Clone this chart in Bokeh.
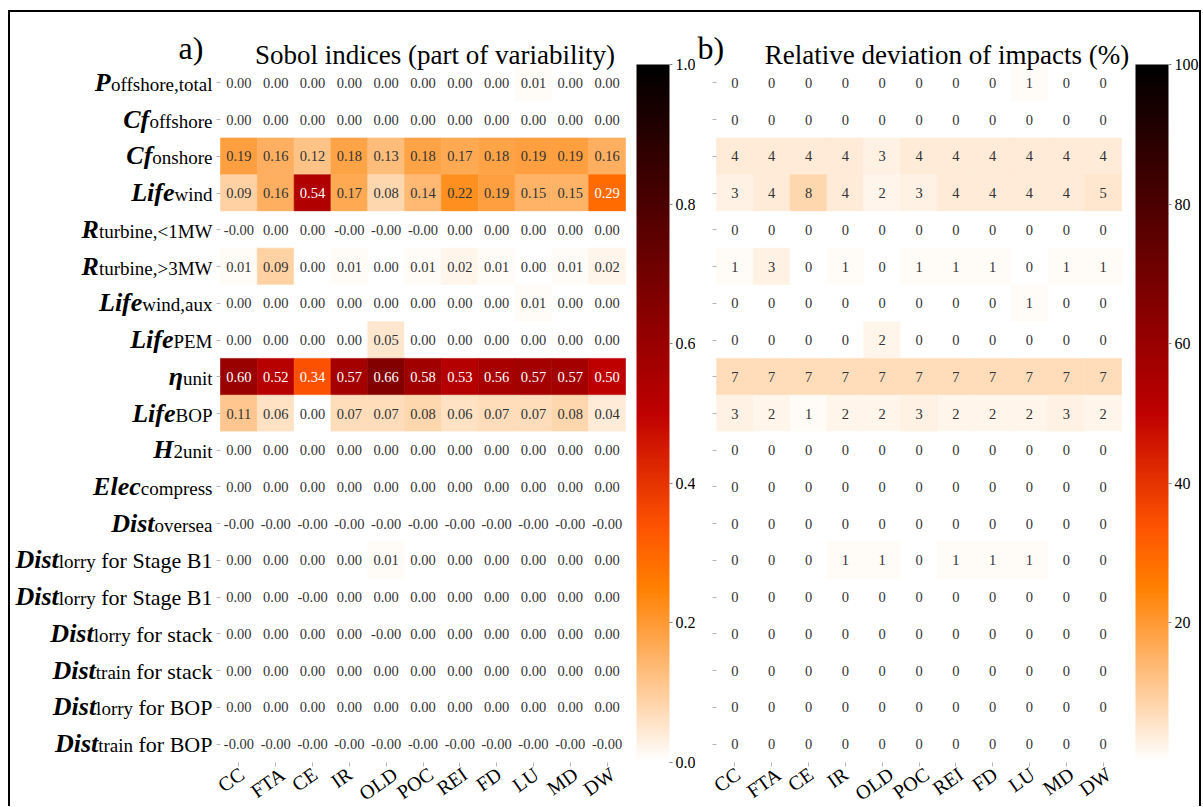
import math
from bokeh.plotting import figure
from bokeh.models import (ColumnDataSource, LinearColorMapper, ColorBar, FixedTicker, Range1d,
                          LabelSet, Label, CustomJSTickFormatter, PrintfTickFormatter)
from bokeh.layouts import row
from bokeh.transform import transform
from bokeh.core.properties import value, field
from bokeh.embed import file_html
from bokeh.resources import INLINE

# ---------------- data ----------------
scenarios = ["CC", "FTA", "CE", "IR", "OLD", "POC", "REI", "FD", "LU", "MD", "DW"]

param_main = ["P", "Cf", "Cf", "Life", "R", "R", "Life", "Life", "η", "Life",
              "H", "Elec", "Dist", "Dist", "Dist", "Dist", "Dist", "Dist", "Dist"]
param_sub = ["offshore,total", "offshore", "onshore", "wind", "turbine,<1MW", "turbine,>3MW",
             "wind,aux", "PEM", "unit", "BOP", "2unit", "compress", "oversea",
             "lorry", "lorry", "lorry", "train", "lorry", "train"]
param_rest = ["", "", "", "", "", "", "", "", "", "", "", "", "",
              "for Stage B1", "for Stage B1", "for stack", "for stack", "for BOP", "for BOP"]

sobol = [
    [0.00, 0.00, 0.00, 0.00, 0.00, 0.00, 0.00, 0.00, 0.01, 0.00, 0.00],
    [0.00, 0.00, 0.00, 0.00, 0.00, 0.00, 0.00, 0.00, 0.00, 0.00, 0.00],
    [0.19, 0.16, 0.12, 0.18, 0.13, 0.18, 0.17, 0.18, 0.19, 0.19, 0.16],
    [0.09, 0.16, 0.54, 0.17, 0.08, 0.14, 0.22, 0.19, 0.15, 0.15, 0.29],
    [-0.0, 0.00, 0.00, -0.0, -0.0, -0.0, 0.00, 0.00, 0.00, 0.00, 0.00],
    [0.01, 0.09, 0.00, 0.01, 0.00, 0.01, 0.02, 0.01, 0.00, 0.01, 0.02],
    [0.00, 0.00, 0.00, 0.00, 0.00, 0.00, 0.00, 0.00, 0.01, 0.00, 0.00],
    [0.00, 0.00, 0.00, 0.00, 0.05, 0.00, 0.00, 0.00, 0.00, 0.00, 0.00],
    [0.60, 0.52, 0.34, 0.57, 0.66, 0.58, 0.53, 0.56, 0.57, 0.57, 0.50],
    [0.11, 0.06, 0.00, 0.07, 0.07, 0.08, 0.06, 0.07, 0.07, 0.08, 0.04],
    [0.00, 0.00, 0.00, 0.00, 0.00, 0.00, 0.00, 0.00, 0.00, 0.00, 0.00],
    [0.00, 0.00, 0.00, 0.00, 0.00, 0.00, 0.00, 0.00, 0.00, 0.00, 0.00],
    [-0.0, -0.0, -0.0, -0.0, -0.0, -0.0, -0.0, -0.0, -0.0, -0.0, -0.0],
    [0.00, 0.00, 0.00, 0.00, 0.01, 0.00, 0.00, 0.00, 0.00, 0.00, 0.00],
    [0.00, 0.00, -0.0, 0.00, 0.00, 0.00, 0.00, 0.00, 0.00, 0.00, 0.00],
    [0.00, 0.00, 0.00, 0.00, -0.0, 0.00, 0.00, 0.00, 0.00, 0.00, 0.00],
    [0.00, 0.00, 0.00, 0.00, 0.00, 0.00, 0.00, 0.00, 0.00, 0.00, 0.00],
    [0.00, 0.00, 0.00, 0.00, 0.00, 0.00, 0.00, 0.00, 0.00, 0.00, 0.00],
    [-0.0, -0.0, -0.0, -0.0, -0.0, -0.0, -0.0, -0.0, -0.0, -0.0, -0.0],
]

deviation = [
    [0, 0, 0, 0, 0, 0, 0, 0, 1, 0, 0],
    [0, 0, 0, 0, 0, 0, 0, 0, 0, 0, 0],
    [4, 4, 4, 4, 3, 4, 4, 4, 4, 4, 4],
    [3, 4, 8, 4, 2, 3, 4, 4, 4, 4, 5],
    [0, 0, 0, 0, 0, 0, 0, 0, 0, 0, 0],
    [1, 3, 0, 1, 0, 1, 1, 1, 0, 1, 1],
    [0, 0, 0, 0, 0, 0, 0, 0, 1, 0, 0],
    [0, 0, 0, 0, 2, 0, 0, 0, 0, 0, 0],
    [7, 7, 7, 7, 7, 7, 7, 7, 7, 7, 7],
    [3, 2, 1, 2, 2, 3, 2, 2, 2, 3, 2],
    [0, 0, 0, 0, 0, 0, 0, 0, 0, 0, 0],
    [0, 0, 0, 0, 0, 0, 0, 0, 0, 0, 0],
    [0, 0, 0, 0, 0, 0, 0, 0, 0, 0, 0],
    [0, 0, 0, 1, 1, 0, 1, 1, 1, 0, 0],
    [0, 0, 0, 0, 0, 0, 0, 0, 0, 0, 0],
    [0, 0, 0, 0, 0, 0, 0, 0, 0, 0, 0],
    [0, 0, 0, 0, 0, 0, 0, 0, 0, 0, 0],
    [0, 0, 0, 0, 0, 0, 0, 0, 0, 0, 0],
    [0, 0, 0, 0, 0, 0, 0, 0, 0, 0, 0],
]

sobol_ticks = [0.0, 0.2, 0.4, 0.6, 0.8, 1.0]
deviation_ticks = [20, 40, 60, 80, 100]

title_a = "Sobol indices (part of variability)"
title_b = "Relative deviation of impacts (%)"

# ---------------- layout / styling ----------------
FONT = "Liberation Serif"
N_ROWS, N_COLS = len(param_main), len(scenarios)
HEAT_W, HEAT_H = 405, 698
SX, SY = HEAT_W / N_COLS, HEAT_H / N_ROWS
PAD_TOP, PAD_BOTTOM = 52, 44
FIG_H = PAD_TOP + HEAT_H + PAD_BOTTOM
MAIN_PX, SUB_PX, REST_PX = 26, 19, 22
XLAB_PX = 20


def gist_heat_r(n=256):
    cols = []
    for k in range(n):
        x = 1 - k / (n - 1)
        r = min(1.0, 1.5 * x)
        g = max(0.0, min(1.0, 2 * x - 1))
        b = max(0.0, min(1.0, 4 * x - 3))
        cols.append("#%02x%02x%02x" % (round(r * 255), round(g * 255), round(b * 255)))
    return cols


PALETTE = gist_heat_r()

# Times / Liberation Serif regular advance widths (1/1000 em)
TW = {' ': 250, ',': 250, '<': 564, '>': 564, '1': 500, '2': 500, '3': 500, '%': 833,
      '(': 333, ')': 333,
      'a': 444, 'b': 500, 'c': 444, 'd': 500, 'e': 444, 'f': 333, 'g': 500, 'h': 500,
      'i': 278, 'k': 500, 'l': 278, 'm': 778, 'n': 500, 'o': 500, 'p': 500, 'r': 333,
      's': 389, 't': 278, 'u': 500, 'v': 500, 'w': 722, 'x': 500, 'y': 500,
      'A': 722, 'B': 667, 'C': 667, 'D': 722, 'E': 611, 'F': 556, 'I': 333, 'L': 611,
      'M': 889, 'O': 722, 'P': 556, 'R': 667, 'S': 556, 'T': 611, 'U': 722, 'W': 944}


def tw(s, size):
    return sum(TW.get(c, 500) for c in s) * size / 1000.0


def make_panel(matrix, fmt, mapper, white_thresh, pad_left, pad_right, cb_gap,
               ticks, tick_fmt, letter, letter_dx, title, title_dx, with_labels):
    xs, ys, vs, labels, tcs = [], [], [], [], []
    for i, rv in enumerate(matrix):
        for j, v in enumerate(rv):
            xs.append(j + 0.5)
            ys.append(N_ROWS - i - 0.5)
            vs.append(v)
            labels.append(fmt(v))
            tcs.append("#ffffff" if v >= white_thresh else "#333333")
    src = ColumnDataSource(dict(x=xs, y=ys, v=vs, label=labels, tc=tcs))

    p = figure(width=pad_left + HEAT_W + pad_right, height=FIG_H,
               x_range=Range1d(-pad_left / SX, N_COLS + pad_right / SX),
               y_range=Range1d(-PAD_BOTTOM / SY, N_ROWS + PAD_TOP / SY),
               output_backend="svg", toolbar_location=None, min_border=0,
               outline_line_color=None, background_fill_color="white",
               border_fill_color="white", align="start")
    p.grid.visible = False
    p.title.visible = False

    p.rect(x="x", y="y", width=1, height=1, source=src,
           fill_color=transform("v", mapper), line_color=transform("v", mapper), line_width=0.6)
    p.text(x="x", y="y", text="label", source=src, text_align="center",
           text_baseline="middle", text_font=value(FONT), text_font_size="14.5px",
           text_color=field("tc"))

    p.xaxis.ticker = FixedTicker(ticks=[j + 0.5 for j in range(N_COLS)])
    p.yaxis.ticker = FixedTicker(ticks=[i + 0.5 for i in range(N_ROWS)])
    p.xaxis.fixed_location = 0
    p.yaxis.fixed_location = 0
    for ax in p.axis:
        ax.axis_line_color = None
        ax.major_tick_out = 4
        ax.major_tick_in = 0
        ax.major_tick_line_color = "#b5b5b5"
        ax.minor_tick_line_color = None
        ax.formatter = CustomJSTickFormatter(code="return ''")

    # rotated scenario labels under the cells
    ang = math.radians(35)
    xl_src = ColumnDataSource(dict(
        x=[j + 0.5 for j in range(N_COLS)], y=[0] * N_COLS, text=scenarios,
        yo=[-(2 + (tw(s, XLAB_PX) * math.sin(ang) + 0.9 * XLAB_PX * math.cos(ang)) / 2)
            for s in scenarios]))
    p.add_layout(LabelSet(x="x", y="y", text="text", source=xl_src, angle=ang,
                          x_offset=-8, y_offset="yo", text_align="center",
                          text_baseline="middle", text_font=value(FONT),
                          text_font_size="%dpx" % XLAB_PX, text_color="black"))

    if with_labels:
        ys_lab = [N_ROWS - i - 0.5 for i in range(N_ROWS)]
        gap = 8
        w_rest = [tw(r, REST_PX) + (tw(' ', REST_PX) if r else 0) for r in param_rest]
        w_sub = [tw(s, SUB_PX) for s in param_sub]
        main_src = ColumnDataSource(dict(
            x=[0] * N_ROWS, y=ys_lab, text=param_main,
            xo=[-(gap + w_rest[i] + w_sub[i]) for i in range(N_ROWS)]))
        sub_src = ColumnDataSource(dict(
            x=[0] * N_ROWS, y=ys_lab, text=param_sub,
            xo=[-(gap + w_rest[i]) for i in range(N_ROWS)]))
        idx = [i for i in range(N_ROWS) if param_rest[i]]
        rest_src = ColumnDataSource(dict(
            x=[0] * len(idx), y=[ys_lab[i] for i in idx], text=[param_rest[i] for i in idx],
            xo=[-gap] * len(idx)))
        p.add_layout(LabelSet(x="x", y="y", text="text", source=main_src, x_offset="xo",
                              y_offset=-8, text_align="right", text_baseline="alphabetic",
                              text_font=value(FONT), text_font_size="%dpx" % MAIN_PX,
                              text_font_style="bold italic", text_color="black"))
        p.add_layout(LabelSet(x="x", y="y", text="text", source=sub_src, x_offset="xo",
                              y_offset=-8, text_align="right", text_baseline="alphabetic",
                              text_font=value(FONT), text_font_size="%dpx" % SUB_PX,
                              text_color="black"))
        p.add_layout(LabelSet(x="x", y="y", text="text", source=rest_src, x_offset="xo",
                              y_offset=-8, text_align="right", text_baseline="alphabetic",
                              text_font=value(FONT), text_font_size="%dpx" % REST_PX,
                              text_color="black"))

    # panel letter and title
    p.add_layout(Label(x=0, y=N_ROWS, x_offset=letter_dx, y_offset=17, text=letter,
                       text_align="left", text_baseline="alphabetic", text_font=FONT,
                       text_font_size="32px", text_color="black"))
    p.add_layout(Label(x=N_COLS / 2, y=N_ROWS, x_offset=title_dx, y_offset=10, text=title,
                       text_align="center", text_baseline="alphabetic", text_font=FONT,
                       text_font_size="27px", text_color="black"))

    # colour bar beside the heatmap
    cb = ColorBar(color_mapper=mapper, ticker=FixedTicker(ticks=ticks),
                  formatter=PrintfTickFormatter(format=tick_fmt),
                  width=33, height=HEAT_H, padding=0, margin=0,
                  location=(pad_left + HEAT_W + cb_gap, PAD_BOTTOM),
                  major_tick_out=3, major_tick_in=0, major_tick_line_color="#888888",
                  minor_tick_line_color=None, bar_line_color=None,
                  border_line_color=None, background_fill_color=None,
                  label_standoff=3, major_label_text_font=FONT,
                  major_label_text_font_size="16px", major_label_text_color="black")
    p.add_layout(cb)
    return p


mapper_a = LinearColorMapper(palette=PALETTE, low=0, high=1.0)
mapper_b = LinearColorMapper(palette=PALETTE, low=0, high=100)

pa = make_panel(sobol, lambda v: "%.2f" % v, mapper_a, 0.25, 210, 70, 11,
                sobol_ticks, "%.1f", "a)", -42, title_a, 12, True)
pb = make_panel(deviation, lambda v: "%d" % v, mapper_b, 25, 21, 78, 14,
                deviation_ticks, "%d", "b)", -19, title_b, 28, False)

layout = row(pa, pb, align="start",
             styles={"border-top": "2px solid black",
                     "border-left": "2px solid black",
                     "border-right": "2px solid black",
                     "margin-top": "10px",
                     "margin-left": "8px"})

open("out.html", "w").write(file_html(layout, INLINE))
